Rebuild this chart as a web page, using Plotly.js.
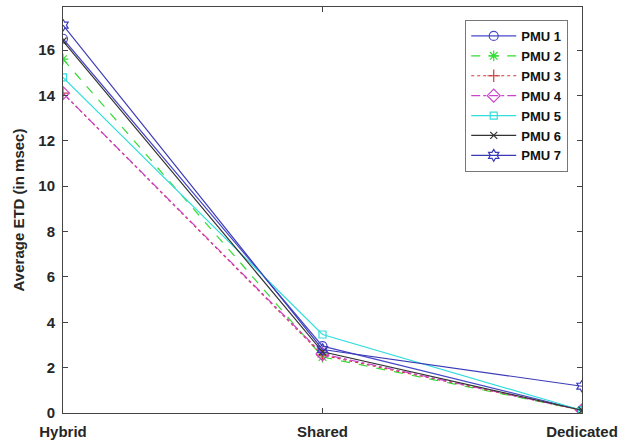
<!DOCTYPE html>
<html><head><meta charset="utf-8">
<script src="https://cdn.plot.ly/plotly-3.0.1.min.js"></script>
<style>html,body{margin:0;padding:0;background:#fff}#chart{width:634px;height:446px}</style>
</head><body><div id="chart"></div>
<script>
const categories = ["Hybrid", "Shared", "Dedicated"];
const seriesNames = ["PMU 1", "PMU 2", "PMU 3", "PMU 4", "PMU 5", "PMU 6", "PMU 7"];
const pmu1 = [16.5, 2.95, 0.12];
const pmu2 = [15.6, 2.47, 0.12];
const pmu3 = [14.1, 2.55, 0.12];
const pmu4 = [14.1, 2.6, 0.12];
const pmu5 = [14.8, 3.46, 0.12];
const pmu6 = [16.4, 2.7, 0.12];
const pmu7 = [17.1, 2.8, 1.18];
const yTicks = [0, 2, 4, 6, 8, 10, 12, 14, 16];

const values = [pmu1, pmu2, pmu3, pmu4, pmu5, pmu6, pmu7];
const colors = ["#4848c8", "#33dd33", "#d03a3a", "#cc44cc", "#33dddd", "#333333", "#3a3ab8"];
const dashes = ["solid", "dash", "dot", "dashdot", "solid", "solid", "solid"];
const symbols = ["circle-open", "asterisk-open", "cross-thin-open", "diamond-open", "square-open", "x-thin-open", "hexagram-open"];
const sizes = [9, 9, 9, 10, 7, 7, 9];
const xIdx = categories.map((c, i) => i);

const traces = values.map((v, i) => ({
  x: xIdx, y: v, name: seriesNames[i], type: "scatter", mode: "lines+markers",
  line: {color: colors[i], width: 1.2, dash: dashes[i]},
  marker: {symbol: symbols[i], size: sizes[i], color: colors[i], line: {color: colors[i], width: 1.2}}
}));

const layout = {
  width: 634, height: 446,
  margin: {l: 63, r: 52, t: 7, b: 33},
  paper_bgcolor: "#fff", plot_bgcolor: "#fff",
  font: {family: "Liberation Sans, Arial, sans-serif", size: 15, color: "#262626"},
  showlegend: true,
  legend: {x: 0.775, y: 0.968, xanchor: "left", yanchor: "top", bgcolor: "#fff",
    bordercolor: "#777", borderwidth: 1, itemwidth: 45, tracegroupgap: 0,
    font: {family: "Liberation Sans, Arial, sans-serif", size: 13, color: "#111", weight: "bold"}},
  xaxis: {range: [0, 2], tickvals: xIdx, ticktext: categories.map(c => "<b>" + c + "</b>"),
    showgrid: false, zeroline: false, showline: true, linecolor: "#444", linewidth: 1,
    mirror: "ticks", ticks: "inside", ticklen: 5, tickcolor: "#444", ticklabelstandoff: 5,
    tickfont: {size: 15, color: "#262626"}},
  yaxis: {range: [0, 17.9], tickvals: yTicks, ticktext: yTicks.map(t => "<b>" + t + "</b>"),
    showgrid: false, zeroline: false, showline: true, linecolor: "#444", linewidth: 1,
    mirror: "ticks", ticks: "inside", ticklen: 5, tickcolor: "#444", ticklabelstandoff: 4,
    tickfont: {size: 15, color: "#262626"},
    title: {text: "<b>Average ETD (in msec)</b>", font: {size: 15, color: "#262626"}, standoff: 10}}
};
Plotly.newPlot("chart", traces, layout, {displayModeBar: false, staticPlot: true});
</script></body></html>
